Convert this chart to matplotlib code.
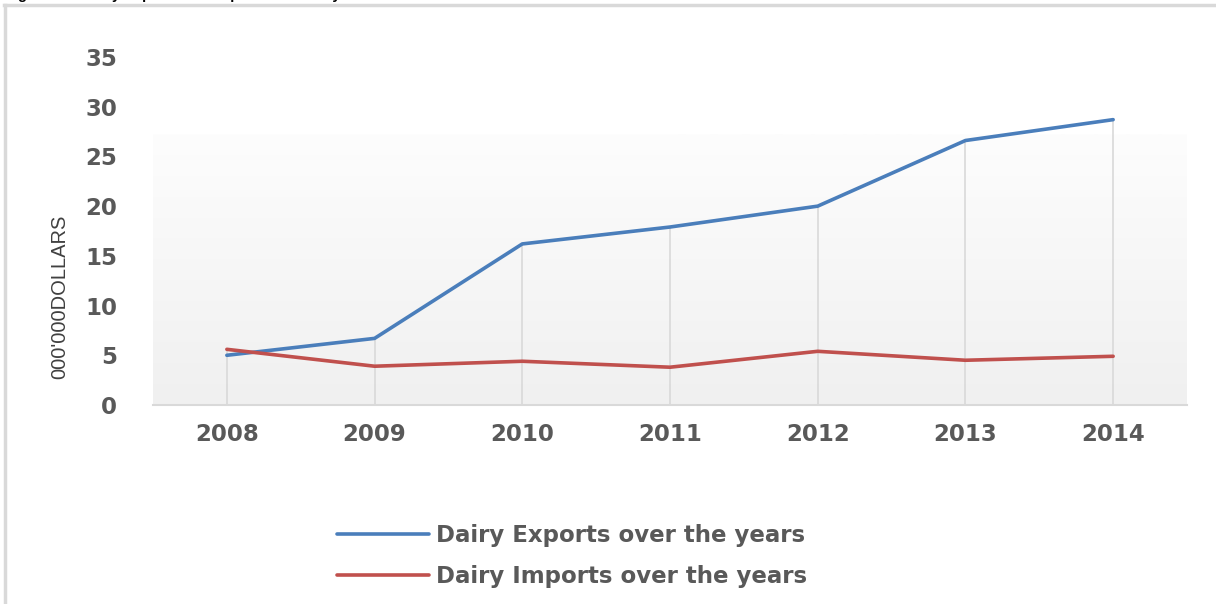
import numpy as np
import matplotlib
matplotlib.use("Agg")
import matplotlib.pyplot as plt
from matplotlib.lines import Line2D
from matplotlib.colors import LinearSegmentedColormap

# Data (millions of dollars)
years = ["2008", "2009", "2010", "2011", "2012", "2013", "2014"]
exports = [5.0, 6.7, 16.2, 17.9, 20.0, 26.6, 28.7]
imports = [5.6, 3.9, 4.4, 3.8, 5.4, 4.5, 4.9]
y_ticks = [0, 5, 10, 15, 20, 25, 30, 35]

title = "Figure 4.2: Dairy Exports and Imports over the years"
ylabel = "000'000DOLLARS"
labels = ["Dairy Exports over the years", "Dairy Imports over the years"]

BLUE = "#4a7ebb"
RED = "#c0504d"
GRID = "#d9d9d9"
TXT = "#595959"

fig = plt.figure(figsize=(12.16, 6.04), dpi=100)
fig.patch.set_facecolor("white")

# outer frame of the chart area
fig.add_artist(Line2D([5 / 1216, 5 / 1216], [0, 1 - 5 / 604], transform=fig.transFigure,
                      color=GRID, lw=2.5))
fig.add_artist(Line2D([4 / 1216, 1], [1 - 5 / 604, 1 - 5 / 604], transform=fig.transFigure,
                      color=GRID, lw=2.5))

# caption sitting above the frame
fig.text(5 / 1216, 1 + 1 / 604, title, ha="left", va="baseline", fontsize=10.5,
         fontweight="bold", color="black", family=["Liberation Sans", "DejaVu Sans"])

ax = fig.add_axes([153 / 1216, (604 - 405) / 604, 1034 / 1216, 348 / 604])
x = np.arange(len(years))

# plot-area gradient
cmap = LinearSegmentedColormap.from_list("bg", ["#fdfdfd", "#f0f0f0"])
grad = np.linspace(0, 1, 256).reshape(-1, 1)
ax.imshow(grad, cmap=cmap, aspect="auto", extent=(-0.5, len(years) - 0.5, 0, 27.2),
          origin="upper", zorder=0, interpolation="bilinear")

# drop lines
ax.vlines(x, 0, np.maximum(exports, imports), color=GRID, lw=1.2, zorder=1)

ax.plot(x, exports, color=BLUE, lw=2.6, solid_capstyle="round", zorder=3, label=labels[0])
ax.plot(x, imports, color=RED, lw=2.6, solid_capstyle="round", zorder=3, label=labels[1])

ax.set_xlim(-0.5, len(years) - 0.5)
ax.set_ylim(0, 35)
ax.set_xticks(x)
ax.set_xticklabels(years)
ax.set_yticks(y_ticks)
ax.tick_params(axis="both", length=0, colors=TXT)
ax.tick_params(axis="y", pad=26)
ax.tick_params(axis="x", pad=13)
for lab in ax.get_xticklabels() + ax.get_yticklabels():
    lab.set_fontsize(16.5)
    lab.set_fontweight("bold")
    lab.set_family("DejaVu Sans")
    lab.set_color(TXT)

for s in ["top", "right", "left"]:
    ax.spines[s].set_visible(False)
ax.spines["bottom"].set_color(GRID)
ax.spines["bottom"].set_linewidth(1.5)
ax.set_facecolor("white")

fig.text(60 / 1216, (604 - 297) / 604, ylabel, rotation=90, ha="center", va="center",
         fontsize=14.5, color="#404040",
         family=["Liberation Sans", "DejaVu Sans"])

leg = ax.legend(loc="center left", bbox_to_anchor=(337 / 1216, (604 - 556) / 604),
                bbox_transform=fig.transFigure, frameon=False, borderpad=0,
                borderaxespad=0, handlelength=4.0, handletextpad=0.3,
                labelspacing=0.75, prop={"family": "DejaVu Sans", "weight": "bold", "size": 16.5})
for t in leg.get_texts():
    t.set_color(TXT)

fig.savefig("out.png", dpi=100, facecolor="white")
